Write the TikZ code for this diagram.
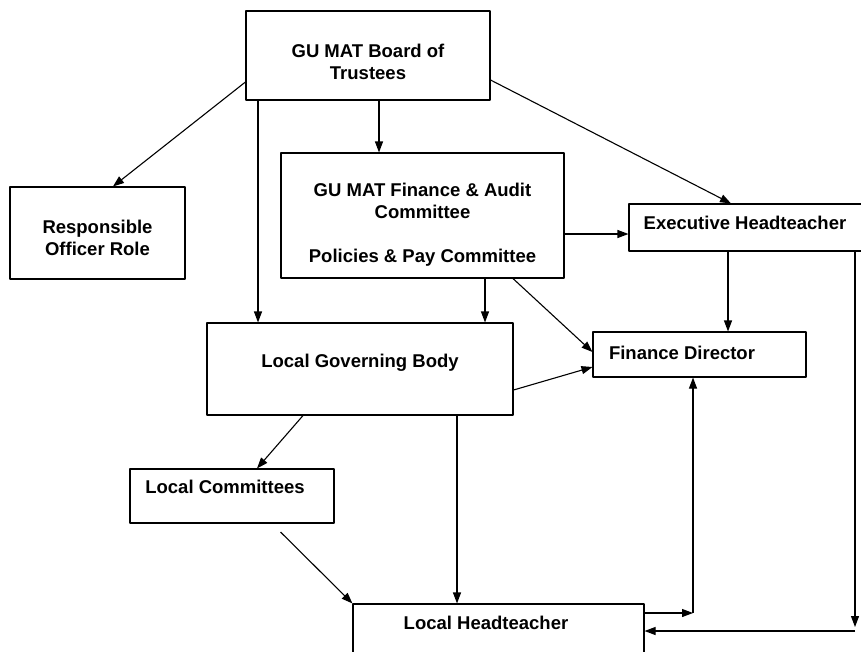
\documentclass[tikz,border=0pt]{standalone}
\usepackage{fontspec}
\setmainfont{Liberation Sans}
\usetikzlibrary{arrows.meta}
\begin{document}
\begin{tikzpicture}[x=1pt,y=-1pt,line width=1.1pt,line join=round,
  >={Triangle[length=11pt,width=8pt]},
  box/.style={draw,rectangle,inner sep=0pt},
  every label/.style={font=\bfseries\fontsize{18.5}{22}\selectfont,align=center,inner sep=0pt}]
  \useasboundingbox (0,0) rectangle (861,651);
  \node[box,minimum width=244pt,minimum height=89pt,label={[yshift=-6pt]center:GU MAT Board of\\Trustees}] (board) at (368,55.5) {};
  \node[box,minimum width=175pt,minimum height=92pt,label={[yshift=-4.5pt]center:Responsible\\Officer Role}] (resp) at (97.5,233) {};
  \node[box,minimum width=283pt,minimum height=125pt,label={[yshift=-9.5pt]center:GU MAT Finance \& Audit\\Committee\\[22pt]Policies \& Pay Committee}] (fa) at (422.5,215.5) {};
  \node[box,minimum width=241pt,minimum height=47pt,label={[xshift=-4.5pt,yshift=4.5pt]center:Executive Headteacher}] (exec) at (749.5,227.5) {};
  \node[box,minimum width=306pt,minimum height=92pt,label={[yshift=6pt]center:Local Governing Body}] (lgb) at (360,369) {};
  \node[box,minimum width=213pt,minimum height=45pt,label={[xshift=-17.5pt,yshift=1.5pt]center:Finance Director}] (fd) at (699.5,354.5) {};
  \node[box,minimum width=204pt,minimum height=54pt,label={[xshift=-7pt,yshift=9pt]center:Local Committees}] (lc) at (232,496) {};
  \node[box,minimum width=291pt,minimum height=76pt,label={[xshift=-12.5pt,yshift=19pt]center:Local Headteacher}] (lh) at (498.5,642) {};
  \coordinate (fr) at (693,613);
  \coordinate (er1) at (855,627);
  \coordinate (er2) at (855,631);
  % from the board
  \draw[->] (board.west |- 0,82) -- (resp.north -| 113,0);
  \draw[->] (board.south -| 258,0) -- (lgb.north -| 258,0);
  \draw[->] (board.south -| 379,0) -- (fa.north -| 379,0);
  \draw[->] (board.east |- 0,80) -- (exec.north -| 731,0);
  % from the committees
  \draw[->] (fa.east |- 0,234) -- (exec.west |- 0,234);
  \draw[->] (fa.south -| 485,0) -- (lgb.north -| 485,0);
  \draw[->] (fa.south -| 513,0) -- (fd.west |- 0,352);
  \draw[->] (lgb.east |- 0,390) -- (fd.west |- 0,367);
  \draw[->] (exec.south -| 728,0) -- (fd.north -| 728,0);
  \draw[->] (exec.south -| er1) -- (er1);
  \draw[->] (er2) -- (lh.east |- er2);
  \draw[->] (lh.east |- fr) -- (fr);
  \draw[->] (fr) -- (fd.south -| fr);
  \draw[->] (lgb.south -| 457,0) -- (lh.north -| 457,0);
  \draw[->] (lgb.south -| 303,0) -- (lc.north -| 257,0);
  \draw[->,shorten <=12pt] (lc.south -| 272,0) -- (lh.north west);
\end{tikzpicture}
\end{document}
